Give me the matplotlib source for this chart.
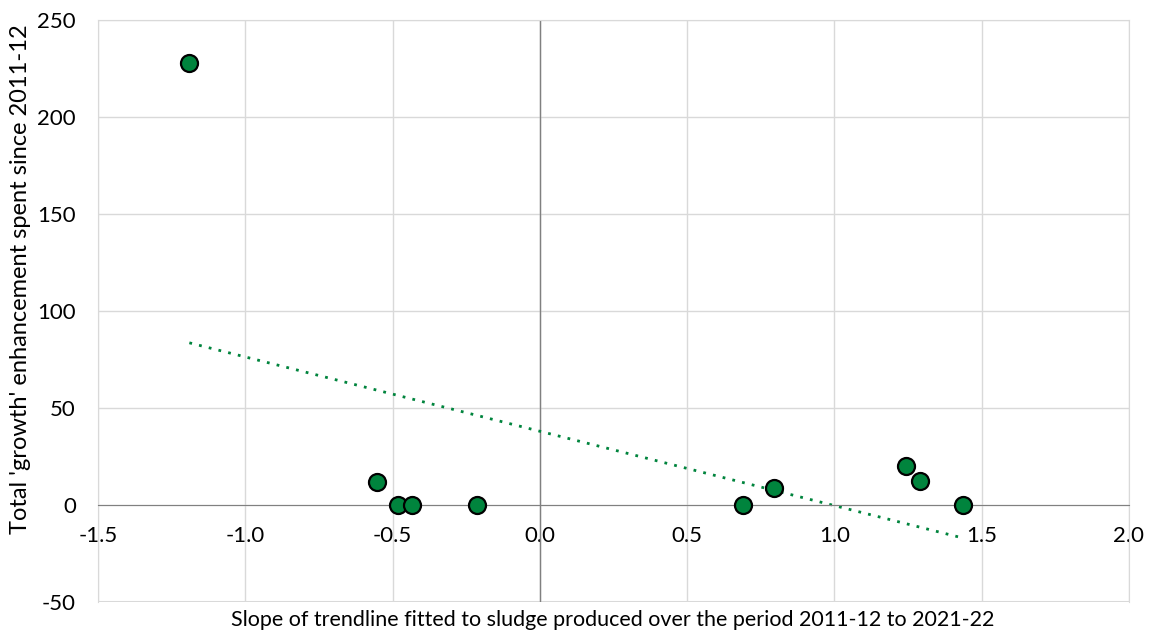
import numpy as np
import matplotlib
matplotlib.use('Agg')
import matplotlib.pyplot as plt

plt.rcParams['font.family'] = ['Lato', 'DejaVu Sans']
plt.rcParams['axes.unicode_minus'] = False

# slope of sludge trendline vs total growth enhancement spent
slope = [-1.19, -0.553, -0.48, -0.435, -0.214, 0.69, 0.795, 1.243, 1.292, 1.436]
spent = [228, 12, 0, 0, 0, 0, 8.6, 20, 12.4, 0]

x_ticks = [-1.5, -1.0, -0.5, 0.0, 0.5, 1.0, 1.5, 2.0]
y_ticks = [-50, 0, 50, 100, 150, 200, 250]

green = '#00843d'

fig = plt.figure(figsize=(11.52, 6.35), dpi=100)
ax = fig.add_axes([0.0851, 0.052, 0.8949, 0.9165])

ax.set_xlim(-1.5, 2.0)
ax.set_ylim(-50, 250)
ax.set_xticks(x_ticks)
ax.set_yticks(y_ticks)
ax.set_xticklabels([f'{t:.1f}' for t in x_ticks])
ax.grid(True, color='#d9d9d9', lw=1)
ax.set_axisbelow(True)

for s in ['top', 'right', 'left']:
    ax.spines[s].set_color('#d9d9d9')
ax.spines['bottom'].set_position(('data', 0))
ax.spines['bottom'].set_color('#808080')
ax.axvline(0, color='#808080', lw=1, zorder=1)
# outer bottom border of the plot area
ax.axhline(-50, color='#d9d9d9', lw=1.5, zorder=0)

ax.tick_params(axis='both', length=0, labelsize=16, colors='black')
ax.tick_params(axis='x', pad=15)
ax.tick_params(axis='y', pad=16)

# linear trendline across the data range
k, b = np.polyfit(slope, spent, 1)
xs = np.array([min(slope), max(slope)])
ax.plot(xs, k * xs + b, color=green, lw=2, linestyle=(0, (1, 2.6)), zorder=2)

ax.scatter(slope, spent, s=150, color=green, edgecolor='black', linewidth=1.6, zorder=3)

ax.set_xlabel('Slope of trendline fitted to sludge produced over the period 2011-12 to 2021-22', fontsize=15.5)
ax.xaxis.set_label_coords(0.532, 0.024, transform=fig.transFigure)
ax.xaxis.label.set_va('center')
ax.set_ylabel("Total 'growth' enhancement spent since 2011-12", fontsize=17)
ax.yaxis.set_label_coords(0.018, 0.56, transform=fig.transFigure)
ax.yaxis.label.set_va('center')

fig.savefig('out.png', dpi=100)
